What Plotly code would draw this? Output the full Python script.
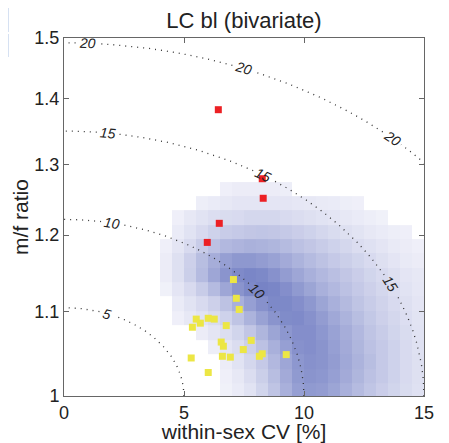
import numpy as np
import plotly.graph_objects as go

# ---------------- data ----------------
title_text = "LC bl (bivariate)"
x_title = "within-sex CV [%]"
y_title = "m/f ratio"

x_ticks = [0, 5, 10, 15]
y_ticks = [1.0, 1.1, 1.2, 1.3, 1.4, 1.5]
y_ticklabels = ["1", "1.1", "1.2", "1.3", "1.4", "1.5"]

contour_levels = [5, 10, 15, 20]
# x positions (CV %) where each contour carries its label
contour_label_x = {5: [1.8], 10: [2.0, 8.04], 15: [1.83, 8.3, 13.6], 20: [0.96, 7.46, 13.67]}

# red squares
red_cv = [6.43, 8.26, 8.30, 6.47, 5.97]
red_ratio = [1.383, 1.279, 1.251, 1.216, 1.190]

# yellow squares
yellow_cv = [7.06, 7.18, 7.30, 5.51, 5.68, 5.35, 6.01, 6.26, 6.76, 6.55,
             6.64, 7.80, 7.47, 6.60, 6.93, 8.26, 8.14, 9.26, 5.30, 6.01]
yellow_ratio = [1.141, 1.117, 1.103, 1.091, 1.086, 1.081, 1.092, 1.091, 1.083, 1.063,
                1.058, 1.065, 1.054, 1.046, 1.045, 1.049, 1.046, 1.048, 1.044, 1.027]

# density heat-map
dens_x = [4.25, 4.75, 5.25, 5.75, 6.25, 6.75, 7.25, 7.75, 8.25, 8.75, 9.25,
          9.75, 10.25, 10.75, 11.25, 11.75, 12.25, 12.75, 13.25, 13.75, 14.25, 14.75]
dens_y = [1.007, 1.023, 1.040, 1.057, 1.075, 1.092, 1.110, 1.129,
          1.147, 1.166, 1.185, 1.204, 1.224, 1.244, 1.264]
dens_z = [
    [0, 0, 0, 0, 0, 0.02, 0.06, 0.12, 0.22, 0.34, 0.48, 0.60, 0.64, 0.62, 0.56, 0.48, 0.40, 0.33, 0.27, 0.22, 0.17, 0.13],
    [0, 0, 0, 0, 0, 0.03, 0.08, 0.16, 0.26, 0.38, 0.52, 0.64, 0.68, 0.66, 0.60, 0.52, 0.44, 0.36, 0.30, 0.24, 0.18, 0.14],
    [0, 0, 0, 0, 0, 0.05, 0.12, 0.20, 0.30, 0.42, 0.55, 0.66, 0.70, 0.68, 0.62, 0.54, 0.46, 0.38, 0.30, 0.24, 0.18, 0.14],
    [0, 0, 0, 0, 0.04, 0.10, 0.16, 0.25, 0.36, 0.48, 0.60, 0.70, 0.72, 0.68, 0.60, 0.52, 0.44, 0.36, 0.30, 0.24, 0.18, 0.13],
    [0, 0, 0, 0.05, 0.10, 0.15, 0.22, 0.32, 0.44, 0.56, 0.66, 0.72, 0.72, 0.66, 0.58, 0.50, 0.42, 0.34, 0.28, 0.22, 0.17, 0.12],
    [0, 0.03, 0.08, 0.12, 0.17, 0.24, 0.34, 0.46, 0.58, 0.68, 0.74, 0.75, 0.70, 0.62, 0.54, 0.46, 0.38, 0.31, 0.25, 0.20, 0.15, 0.11],
    [0, 0.06, 0.12, 0.18, 0.25, 0.35, 0.48, 0.60, 0.70, 0.76, 0.76, 0.72, 0.65, 0.56, 0.48, 0.41, 0.34, 0.28, 0.23, 0.18, 0.14, 0.10],
    [0.02, 0.10, 0.18, 0.28, 0.40, 0.55, 0.68, 0.76, 0.80, 0.78, 0.72, 0.64, 0.56, 0.48, 0.42, 0.36, 0.30, 0.25, 0.20, 0.16, 0.12, 0.09],
    [0.05, 0.14, 0.26, 0.40, 0.55, 0.68, 0.75, 0.78, 0.76, 0.70, 0.62, 0.55, 0.48, 0.42, 0.37, 0.32, 0.27, 0.22, 0.18, 0.14, 0.10, 0.08],
    [0.05, 0.14, 0.25, 0.38, 0.50, 0.60, 0.65, 0.65, 0.62, 0.58, 0.52, 0.46, 0.40, 0.35, 0.30, 0.26, 0.22, 0.18, 0.14, 0.10, 0.07, 0.05],
    [0.03, 0.10, 0.18, 0.28, 0.36, 0.42, 0.45, 0.47, 0.46, 0.44, 0.40, 0.36, 0.32, 0.28, 0.24, 0.20, 0.16, 0.13, 0.10, 0.07, 0.05, 0.03],
    [0, 0.06, 0.12, 0.18, 0.24, 0.28, 0.30, 0.32, 0.33, 0.32, 0.30, 0.27, 0.24, 0.20, 0.17, 0.14, 0.11, 0.08, 0.06, 0.04, 0.03, 0],
    [0, 0.03, 0.08, 0.12, 0.15, 0.17, 0.18, 0.20, 0.20, 0.20, 0.18, 0.16, 0.14, 0.12, 0.10, 0.08, 0.06, 0.04, 0.02, 0, 0, 0],
    [0, 0, 0, 0.04, 0.06, 0.08, 0.10, 0.10, 0.10, 0.10, 0.10, 0.09, 0.08, 0.07, 0.06, 0.04, 0.03, 0, 0, 0, 0, 0],
    [0, 0, 0, 0, 0, 0.03, 0.05, 0.05, 0.05, 0.05, 0.04, 0, 0, 0, 0, 0, 0, 0, 0, 0, 0, 0],
]

# ---------------- layout geometry ----------------
# the page body has an 8px margin, so the figure starts at (8, 8) in the window
OFF = 8
W, H = 449 - OFF, 443 - OFF
ML, MR, MT, MB = 64 - OFF, 25, 38 - OFF, 47
PW, PH = W - ML - MR, H - MT - MB
X_RANGE = [0, 15]
Y_RANGE = [1.0, 1.5]
px_per_x = PW / (X_RANGE[1] - X_RANGE[0])
px_per_log = PH / (np.log10(Y_RANGE[1]) - np.log10(Y_RANGE[0]))


def to_px(x, y):
    return ML + px_per_x * np.asarray(x), MT + PH - px_per_log * np.log10(np.asarray(y))


# contour metric: sqrt(CV^2 + (50 ln ratio)^2)
SCALE = 50.0
FONT = "Liberation Sans"

fig = go.Figure()

fig.add_trace(go.Heatmap(
    x=dens_x, y=dens_y, z=dens_z, zmin=0, zmax=1,
    colorscale=[[0, "rgb(255,255,255)"], [0.01, "rgb(242,242,250)"], [1, "rgb(88,103,184)"]],
    showscale=False, hoverinfo="skip",
))

ann = []
for c in contour_levels:
    th = np.linspace(0, np.pi / 2, 1500)
    cx = c * np.cos(th)
    cy = np.exp(c * np.sin(th) / SCALE)
    px, py = to_px(cx, cy)
    mask = np.ones_like(cx, dtype=bool)
    rad = 8 if c < 10 else 11
    for lx in contour_label_x[c]:
        ly = np.exp(np.sqrt(c ** 2 - lx ** 2) / SCALE)
        lpx, lpy = to_px(lx, ly)
        mask &= np.hypot(px - lpx, py - lpy) > rad
        dL = lx / np.sqrt(c ** 2 - lx ** 2)
        slope = dL * px_per_log / (SCALE * np.log(10)) / px_per_x
        ang = float(np.degrees(np.arctan(slope)))
        ann.append(dict(x=lx, y=float(np.log10(ly)), xref="x", yref="y", text=str(c),
                        showarrow=False, textangle=ang,
                        font=dict(family=FONT, size=14, color="#222", style="italic")))
    xs = np.where(mask, cx, np.nan)
    ys = np.where(mask, cy, np.nan)
    fig.add_trace(go.Scatter(x=xs, y=ys, mode="lines", connectgaps=False,
                             line=dict(color="#333", width=1.3, dash="1px,5px"),
                             hoverinfo="skip", showlegend=False))

fig.add_trace(go.Scatter(x=yellow_cv, y=yellow_ratio, mode="markers",
                         marker=dict(symbol="square", size=7, color="rgb(236,230,68)", line=dict(width=0)),
                         showlegend=False))
fig.add_trace(go.Scatter(x=red_cv, y=red_ratio, mode="markers",
                         marker=dict(symbol="square", size=7, color="rgb(236,32,36)", line=dict(width=0)),
                         showlegend=False))

# small light-blue boxes at top-left of the window (page decoration)
shapes = []
for (y0, y1) in [(0, 6), (8, 32), (34, 57)]:
    shapes.append(dict(type="rect", xref="paper", yref="paper",
                       x0=(0 - OFF - ML) / PW, x1=(9 - OFF - ML) / PW,
                       y0=(MT + PH - (y1 - OFF)) / PH, y1=(MT + PH - (y0 - OFF)) / PH,
                       fillcolor="rgb(214,225,242)", line=dict(width=0), layer="below"))

axis_common = dict(showline=True, linecolor="#666", linewidth=1, mirror="ticks",
                   ticks="inside", ticklen=5, tickcolor="#666", showgrid=False, zeroline=False,
                   automargin=False,
                   tickfont=dict(family=FONT, size=18, color="#222"))

fig.update_layout(
    width=W, height=H,
    margin=dict(l=ML, r=MR, t=MT, b=MB, autoexpand=False),
    paper_bgcolor="white", plot_bgcolor="white",
    title=dict(text=title_text, x=(ML + PW / 2) / W, xanchor="center", y=1 - (20 - OFF) / H, yanchor="middle",
               font=dict(family=FONT, size=22, color="#222")),
    xaxis=dict(range=X_RANGE, tickvals=x_ticks,
               title=dict(text=x_title, standoff=0, font=dict(family=FONT, size=21, color="#222")),
               **axis_common),
    yaxis=dict(type="log", range=[np.log10(Y_RANGE[0]), np.log10(Y_RANGE[1])],
               tickvals=y_ticks, ticktext=y_ticklabels,
               title=dict(text=y_title, standoff=0, font=dict(family=FONT, size=21, color="#222")),
               **axis_common),
    annotations=ann, shapes=shapes, showlegend=False,
)

fig.write_html("out.html")
